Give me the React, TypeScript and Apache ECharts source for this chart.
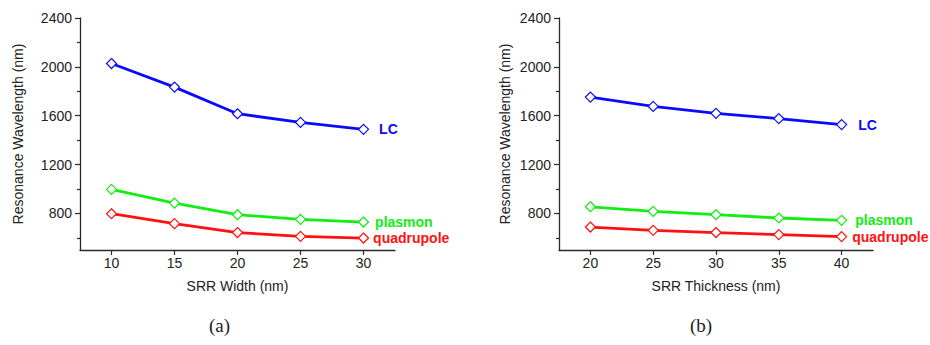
import React, { useEffect, useRef } from "react";
import * as echarts from "echarts";

const widthX = [10, 15, 20, 25, 30];
const widthLC = [2027, 1834, 1616, 1545, 1488];
const widthPlasmon = [996, 884, 789, 751, 729];
const widthQuad = [797, 716, 643, 612, 598];

const thickX = [20, 25, 30, 35, 40];
const thickLC = [1752, 1676, 1619, 1576, 1527];
const thickPlasmon = [854, 816, 789, 762, 743];
const thickQuad = [688, 661, 643, 626, 610];

const yMajor = [800, 1200, 1600, 2000, 2400];
const yMinor = [600, 1000, 1400, 1800, 2200];

const FONT = "Liberation Sans, Arial, sans-serif";
const AXIS_COLOR = "#2a2a2a";

function pairs(xs: number[], ys: number[], name: string, color: string, dist: number) {
  return xs.map((x, i) => {
    const item: any = { value: [x, ys[i]] };
    if (i === xs.length - 1) {
      item.label = {
        show: true,
        position: "right",
        distance: dist,
        formatter: name,
        color,
        fontFamily: FONT,
        fontWeight: "bold",
        fontSize: 14,
      };
    }
    return item;
  });
}

function lineSeries(xs: number[], ys: number[], name: string, color: string, xi: number, yi: number, dist: number) {
  return {
    type: "line",
    name,
    xAxisIndex: xi,
    yAxisIndex: yi,
    data: pairs(xs, ys, name, color, dist),
    symbol: "diamond",
    symbolSize: 10,
    lineStyle: { color, width: 2.8 },
    itemStyle: { color: "#ffffff", borderColor: color, borderWidth: 1.2 },
    label: { show: false },
    z: 3,
  };
}

function xAxisDef(grid: number, ticks: number[], min: number, max: number, name: string) {
  return {
    type: "value",
    gridIndex: grid,
    min,
    max,
    name,
    nameLocation: "middle",
    nameGap: 29,
    nameTextStyle: { fontFamily: FONT, fontSize: 14, color: "#222" },
    axisLine: { show: true, lineStyle: { color: AXIS_COLOR, width: 1.3 } },
    axisTick: { show: true, inside: false, length: 5, customValues: ticks, lineStyle: { color: AXIS_COLOR, width: 1.2 } },
    axisLabel: {
      customValues: ticks,
      margin: 6,
      fontFamily: FONT,
      fontSize: 14,
      color: "#222",
      formatter: (v: number) => String(v),
    },
    splitLine: { show: false },
  };
}

function yAxisMain(grid: number, nameGap: number) {
  return {
    type: "value",
    gridIndex: grid,
    min: 500,
    max: 2400,
    name: "Resonance Wavelength (nm)",
    nameLocation: "middle",
    nameGap,
    nameTextStyle: { fontFamily: FONT, fontSize: 14, color: "#222" },
    axisLine: { show: true, lineStyle: { color: AXIS_COLOR, width: 1.3 } },
    axisTick: { show: true, inside: false, length: 5, customValues: yMajor, lineStyle: { color: AXIS_COLOR, width: 1.2 } },
    axisLabel: {
      customValues: yMajor,
      margin: 8,
      fontFamily: FONT,
      fontSize: 14,
      color: "#222",
      formatter: (v: number) => String(v),
    },
    splitLine: { show: false },
  };
}

function yAxisMinor(grid: number) {
  return {
    type: "value",
    gridIndex: grid,
    position: "left",
    min: 500,
    max: 2400,
    axisLine: { show: false },
    axisTick: { show: true, inside: false, length: 3, customValues: yMinor, lineStyle: { color: AXIS_COLOR, width: 1.2 } },
    axisLabel: { show: false },
    splitLine: { show: false },
  };
}

export default function App() {
  const ref = useRef<HTMLDivElement>(null);
  useEffect(() => {
    if (!ref.current) return;
    const chart = echarts.init(ref.current, null, { renderer: "svg" });
    const BLUE = "#0a0aff";
    const GREEN = "#11ee11";
    const RED = "#ff1111";
    chart.setOption({
      animation: false,
      backgroundColor: "#ffffff",
      grid: [
        { left: 80, top: 18, width: 315, height: 232 },
        { left: 559, top: 18, width: 314, height: 232 },
      ],
      xAxis: [
        xAxisDef(0, widthX, 7.5, 32.5, "SRR Width (nm)"),
        xAxisDef(1, thickX, 17.5, 42.5, "SRR Thickness (nm)"),
      ],
      yAxis: [yAxisMain(0, 55), yAxisMinor(0), yAxisMain(1, 47), yAxisMinor(1)],
      series: [
        lineSeries(widthX, widthLC, "LC", BLUE, 0, 0, 10),
        lineSeries(widthX, widthPlasmon, "plasmon", GREEN, 0, 0, 6),
        lineSeries(widthX, widthQuad, "quadrupole", RED, 0, 0, 4),
        lineSeries(thickX, thickLC, "LC", BLUE, 1, 2, 11),
        lineSeries(thickX, thickPlasmon, "plasmon", GREEN, 1, 2, 8),
        lineSeries(thickX, thickQuad, "quadrupole", RED, 1, 2, 5),
      ],
      graphic: [
        {
          type: "text",
          left: 209,
          top: 316,
          style: { text: "(a)", font: "19px 'Liberation Serif', 'DejaVu Serif', serif", fill: "#222" },
        },
        {
          type: "text",
          left: 690,
          top: 316,
          style: { text: "(b)", font: "19px 'Liberation Serif', 'DejaVu Serif', serif", fill: "#222" },
        },
      ],
    });
    return () => chart.dispose();
  }, []);
  return (
    <div
      ref={ref}
      style={{ position: "fixed", left: 0, top: 0, width: 930, height: 345, background: "#fff" }}
    />
  );
}
